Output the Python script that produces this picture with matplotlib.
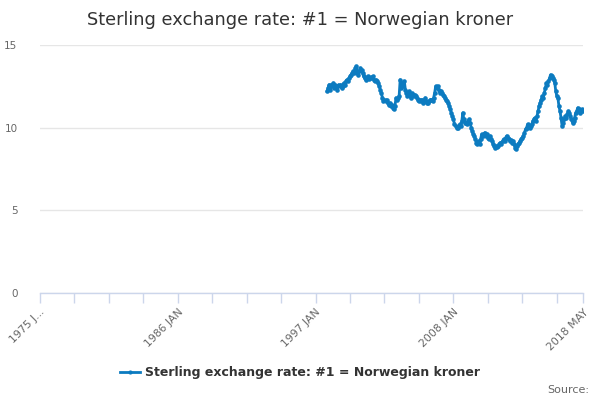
import numpy as np
import pandas as pd
import matplotlib
matplotlib.use("Agg")
import matplotlib.pyplot as plt
from matplotlib.lines import Line2D

# monthly categories 1975 JAN .. 2018 MAY
months = pd.period_range("1975-01", "2018-05", freq="M")
tick_labels = ["1975 J...", "1986 JAN", "1997 JAN", "2008 JAN", "2018 MAY"]
label_months = ["1975-01", "1986-01", "1997-01", "2008-01", "2018-05"]

series_name = "Sterling exchange rate: #1 = Norwegian kroner"
series_start = "1997-12"
rates = [
    12.2,
    # 1998
    12.4, 12.6, 12.3, 12.6, 12.5, 12.7, 12.4, 12.6, 12.5, 12.3, 12.6, 12.5,
    # 1999
    12.6, 12.4, 12.5, 12.7, 12.6, 12.8, 12.9, 12.8, 13.0, 13.1, 13.2, 13.3,
    # 2000
    13.4, 13.3, 13.6, 13.7, 13.3, 13.2, 13.4, 13.6, 13.5, 13.3, 13.1, 13.0,
    # 2001
    12.9, 13.0, 13.1, 12.95, 13.0, 13.05, 13.0, 13.1, 12.9, 12.8, 12.9, 12.8,
    # 2002
    12.7, 12.5, 12.3, 12.1, 11.8, 11.6, 11.7, 11.6, 11.7, 11.5, 11.4, 11.5,
    # 2003
    11.3, 11.4, 11.2, 11.1, 11.3, 11.8, 11.7, 11.8, 11.9, 12.9, 12.4, 12.7,
    # 2004
    12.5, 12.8, 12.3, 12.1, 11.9, 12.2, 12.0, 11.8, 12.1, 12.0, 11.9, 12.0,
    # 2005
    11.9, 11.8, 11.7, 11.6, 11.7, 11.6, 11.7, 11.5, 11.6, 11.8, 11.6, 11.5,
    # 2006
    11.5, 11.6, 11.7, 11.7, 11.6, 11.8, 12.1, 12.5, 12.4, 12.5, 12.3, 12.1,
    # 2007
    12.2, 12.1, 12.0, 11.9, 11.8, 11.7, 11.6, 11.5, 11.3, 11.1, 10.9, 10.7,
    # 2008
    10.5, 10.2, 10.1, 10.0, 10.0, 10.1, 10.2, 10.1, 10.4, 10.9, 10.5, 10.3,
    # 2009
    10.3, 10.2, 10.4, 10.5, 10.3, 10.0, 9.8, 9.6, 9.5, 9.3, 9.1, 9.0,
    # 2010
    9.2, 9.0, 9.3, 9.6, 9.5, 9.6, 9.7, 9.5, 9.6, 9.4, 9.3, 9.5,
    # 2011
    9.3, 9.2, 9.0, 8.9, 8.8, 8.9, 8.85, 8.9, 9.0, 9.1, 9.0, 9.2,
    # 2012
    9.3, 9.2, 9.4, 9.5, 9.4, 9.3, 9.2, 9.25, 9.1, 9.2, 9.0, 8.8,
    # 2013
    8.7, 8.9, 9.0, 9.1, 9.2, 9.3, 9.4, 9.5, 9.7, 9.9, 10.0, 10.2,
    # 2014
    10.1, 10.0, 10.1, 10.2, 10.4, 10.5, 10.6, 10.4, 10.7, 11.0, 11.3, 11.5,
    # 2015
    11.7, 11.9, 11.8, 12.1, 12.4, 12.7, 12.6, 12.8, 13.0, 13.2, 13.1, 13.0,
    # 2016
    12.9, 12.7, 12.2, 11.9, 11.8, 11.3, 11.0, 10.6, 10.1, 10.3, 10.5, 10.7,
    # 2017
    10.6, 10.8, 11.0, 10.9, 10.7, 10.5, 10.3, 10.4, 10.6, 10.9, 11.0, 11.2,
    # 2018
    11.1, 10.9, 11.0, 11.1, 11.0,
]

LINE = "#0c7bc0"
AXIS = "#ccd6eb"
GRID = "#e6e6e6"
TEXT = "#333333"
LABEL = "#666666"

start = months.get_loc(pd.Period(series_start, freq="M"))
xs = np.arange(start, start + len(rates))

fig = plt.figure(figsize=(6, 4), dpi=100)
ax = fig.add_axes([0.0663, 0.2675, 0.9053, 0.62])

ax.plot(xs, rates, color=LINE, lw=2, marker="o", ms=3.3, mew=0, zorder=3)

ax.set_xlim(0, len(months) - 1)
ax.set_ylim(0, 15)

# y axis
ax.set_yticks([0, 5, 10, 15])
ax.yaxis.grid(True, color=GRID, lw=1)
ax.set_axisbelow(True)
ax.tick_params(axis="y", length=0, pad=16, labelsize=7.5, labelcolor=LABEL)

# x axis: tick every 33 months, labels every 4th
tick_pos = list(range(0, len(months), 33)) + [len(months) - 1]
ax.set_xticks(tick_pos, minor=True)
ax.set_xticks([months.get_loc(pd.Period(m, freq="M")) for m in label_months])
ax.set_xticklabels(tick_labels, rotation=45, ha="right", rotation_mode="anchor")
ax.tick_params(axis="x", which="both", length=7, color=AXIS, width=1,
               direction="out", labelsize=7.8, labelcolor=LABEL, pad=3)

for side in ["top", "right", "left"]:
    ax.spines[side].set_visible(False)
ax.spines["bottom"].set_color(AXIS)
ax.spines["bottom"].set_linewidth(1)

fig.text(0.5, 0.95, series_name, ha="center", va="center",
         fontsize=12.8, color=TEXT)

handle = Line2D([0], [0], color=LINE, lw=2, marker="o", ms=3, mew=0)
leg = fig.legend([handle], [series_name], loc="center", bbox_to_anchor=(0.5, 0.068),
                 frameon=False, handlelength=1.6, handletextpad=0.4,
                 prop={"weight": "bold", "size": 9})
for t in leg.get_texts():
    t.set_color(TEXT)

fig.text(0.982, 0.025, "Source:", ha="right", va="center", fontsize=8, color=LABEL)

fig.savefig("out.png", dpi=100)
